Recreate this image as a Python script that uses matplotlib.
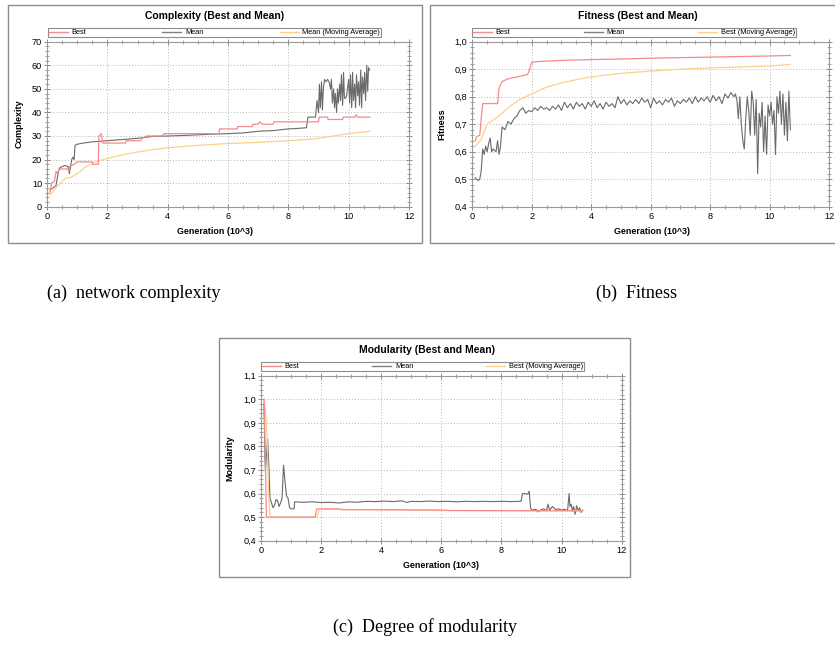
import matplotlib
matplotlib.use("Agg")
import matplotlib.pyplot as plt
from matplotlib.patches import Rectangle
from matplotlib.lines import Line2D
from matplotlib.ticker import MultipleLocator, FuncFormatter

# ---------------- data ----------------
# (a) Complexity
cb_x = [0.10, 0.15, 0.25, 0.30, 0.35, 0.40, 0.70, 0.72, 0.75, 0.90, 1.00, 1.50, 1.52, 1.70, 1.72, 1.80, 1.85,
        2.60, 2.62, 3.10, 3.15, 3.30, 3.80, 3.90, 5.70, 5.72, 6.30, 6.32, 6.80, 6.82, 7.00, 7.05, 7.15, 7.50,
        7.52, 9.00, 9.02, 9.30, 9.32, 9.80, 9.82, 10.20, 10.25, 10.30, 10.70]
cb_y = [6, 10, 11, 15, 14, 16, 16, 15, 17, 18, 19, 19, 18, 18, 30, 31, 27,
        27, 28, 28, 29, 30, 30, 31, 31, 33, 33, 34, 34, 35, 35, 36, 35, 35,
        36, 36, 38, 38, 37, 37, 38, 38, 39, 38, 38]
cm_x = [0.10, 0.20, 0.30, 0.38, 0.42, 0.50, 0.60, 0.70, 0.74, 0.78, 0.82, 0.86, 0.90, 0.93, 1.00, 1.20, 1.50,
        2.00, 2.50, 3.00, 3.50, 4.00, 4.50, 5.00, 5.50, 6.00, 6.50, 7.00, 7.50, 8.00, 8.30, 8.60, 8.65, 8.90,
        8.95, 9.00, 9.03, 9.06, 9.10, 9.13, 9.16, 9.20, 9.25, 9.30, 9.35, 9.40, 9.43, 9.46, 9.50, 9.53, 9.56,
        9.60, 9.63, 9.66, 9.70, 9.73, 9.76, 9.80, 9.83, 9.86, 9.90, 9.93, 9.96, 10.00, 10.03, 10.06, 10.10,
        10.13, 10.16, 10.20, 10.23, 10.26, 10.30, 10.33, 10.36, 10.40, 10.43, 10.46, 10.50, 10.53, 10.56,
        10.60, 10.63, 10.66, 10.70]
cm_y = [7, 8, 9, 15, 16.5, 17, 17.5, 17, 14, 17, 20, 21, 20, 26, 26.5, 27, 27.5,
        28, 28.5, 29, 29.8, 30, 30.2, 30.5, 30.8, 31, 31.3, 32, 32.3, 33, 33.2, 33.5, 38, 38,
        45, 40, 52, 42, 53, 41, 50, 54, 53, 54, 53, 50, 54, 44, 50, 42, 48,
        40, 50, 44, 52, 45, 56, 43, 57, 46, 46, 47, 50, 54, 44, 56, 42,
        57, 45, 52, 42, 56, 47, 53, 43, 58, 42, 55, 48, 57, 45,
        60, 49, 59, 58]
ca_x = [0.10, 0.30, 0.60, 0.80, 1.00, 1.30, 1.60, 2.00, 2.50, 3.00, 3.50, 4.00, 5.00, 6.00, 7.00, 8.00,
        8.60, 9.00, 9.50, 10.00, 10.70]
ca_y = [5, 8, 12, 12.5, 14, 17, 19, 20.5, 22, 23.2, 24.2, 25, 26, 26.8, 27.3, 28,
        28.5, 29, 30, 31, 32]

# (b) Fitness
fb_x = [0.10, 0.15, 0.25, 0.30, 0.35, 0.85, 0.90, 1.00, 1.20, 1.50, 1.85, 1.90, 2.00, 2.20, 3.00, 4.00,
        5.00, 6.00, 7.00, 8.00, 9.00, 10.00, 10.70]
fb_y = [0.64, 0.655, 0.66, 0.72, 0.775, 0.775, 0.83, 0.855, 0.865, 0.872, 0.88, 0.89, 0.925, 0.928, 0.932,
        0.935, 0.937, 0.94, 0.942, 0.944, 0.946, 0.948, 0.95]
fa_x = [0.10, 0.30, 0.50, 0.90, 1.20, 1.60, 2.00, 2.50, 3.00, 3.50, 4.00, 5.00, 6.00, 7.00, 8.00, 9.00,
        10.00, 10.70]
fa_y = [0.62, 0.645, 0.70, 0.73, 0.76, 0.79, 0.81, 0.835, 0.85, 0.862, 0.872, 0.885, 0.893, 0.90, 0.905,
        0.908, 0.912, 0.917]
fm_x = [0.10, 0.20, 0.25, 0.30, 0.35, 0.40, 0.45, 0.50, 0.55, 0.60, 0.65, 0.70, 0.80, 0.85, 0.90, 0.95,
        1.00, 1.10, 1.20, 1.30, 1.40, 1.50, 1.60, 1.70, 1.80, 1.90,
        2.0, 2.1, 2.2, 2.3, 2.4, 2.5, 2.6, 2.7, 2.8, 2.9, 3.0, 3.1, 3.2, 3.3, 3.4, 3.5, 3.6, 3.7, 3.8, 3.9,
        4.0, 4.1, 4.2, 4.3, 4.4, 4.5, 4.6, 4.7, 4.8, 4.9, 5.0, 5.1, 5.2, 5.3, 5.4, 5.5, 5.6, 5.7, 5.8, 5.9,
        6.0, 6.1, 6.2, 6.3, 6.4, 6.5, 6.6, 6.7, 6.8, 6.9, 7.0, 7.1, 7.2, 7.3, 7.4, 7.5, 7.6, 7.7, 7.8, 7.9,
        8.0, 8.1, 8.2, 8.3, 8.4, 8.5, 8.6, 8.7, 8.8,
        8.85, 8.90, 8.95, 9.00, 9.05, 9.10, 9.15, 9.20, 9.25, 9.30, 9.35, 9.40, 9.45, 9.50, 9.55, 9.60,
        9.65, 9.70, 9.75, 9.80, 9.85, 9.90, 9.95, 10.00, 10.05, 10.10, 10.15, 10.20, 10.25, 10.30, 10.35,
        10.40, 10.45, 10.50, 10.55, 10.60, 10.65, 10.70]
fm_y = [0.505, 0.495, 0.50, 0.53, 0.61, 0.59, 0.62, 0.60, 0.63, 0.65, 0.60, 0.61, 0.60, 0.64, 0.59, 0.62,
        0.69, 0.68, 0.71, 0.70, 0.72, 0.73, 0.75, 0.76, 0.74, 0.75,
        0.745, 0.76, 0.75, 0.765, 0.755, 0.76, 0.75, 0.765, 0.755, 0.77, 0.75, 0.78, 0.76, 0.775, 0.755, 0.78,
        0.765, 0.775, 0.755, 0.78,
        0.765, 0.785, 0.76, 0.775, 0.755, 0.78, 0.765, 0.775, 0.76, 0.80, 0.775, 0.79, 0.77, 0.785, 0.775,
        0.79, 0.775, 0.795, 0.78, 0.79,
        0.76, 0.795, 0.775, 0.785, 0.77, 0.79, 0.78, 0.795, 0.765, 0.785, 0.775, 0.79, 0.78, 0.795, 0.775,
        0.80, 0.78, 0.795, 0.785, 0.80,
        0.78, 0.805, 0.785, 0.80, 0.775, 0.81, 0.795, 0.815, 0.80,
        0.81, 0.79, 0.72, 0.80, 0.70, 0.64, 0.61, 0.72, 0.80, 0.75, 0.66, 0.82, 0.78, 0.66, 0.79, 0.52,
        0.74, 0.69, 0.78, 0.60, 0.73, 0.59, 0.77, 0.73, 0.78, 0.70, 0.75, 0.59, 0.80, 0.74, 0.82,
        0.70, 0.81, 0.66, 0.78, 0.64, 0.82, 0.68]

# (c) Modularity
mb_x = [0.10, 0.12, 0.15, 0.18, 1.80, 1.85, 2.60, 2.65, 5.80, 6.30, 9.00, 10.70]
mb_y = [1.00, 0.90, 0.70, 0.50, 0.50, 0.535, 0.535, 0.532, 0.530, 0.528, 0.527, 0.527]
ma_x = [0.10, 0.15, 0.20, 0.25, 0.30, 1.85, 1.95, 2.60, 2.65, 5.80, 6.30, 9.00, 10.70]
ma_y = [1.00, 0.95, 0.85, 0.60, 0.50, 0.50, 0.535, 0.535, 0.532, 0.530, 0.528, 0.527, 0.527]
mm_x = [0.10, 0.13, 0.15, 0.20, 0.22, 0.25, 0.28, 0.30, 0.35, 0.40, 0.45, 0.50, 0.55, 0.60, 0.65, 0.70,
        0.75, 0.80, 0.85, 0.90, 0.95, 1.00, 1.10, 1.12, 1.40, 1.70, 2.00, 2.30, 2.60, 2.90, 3.20, 3.50,
        3.80, 4.10, 4.40, 4.70, 4.85, 5.00, 5.30, 5.60, 5.90, 6.20, 6.50, 6.80, 7.10, 7.40, 7.70, 8.00,
        8.30, 8.65, 8.70, 8.88, 8.92, 8.97, 9.00, 9.15, 9.20, 9.30, 9.40, 9.50, 9.55, 9.60, 9.70, 9.80,
        9.90, 10.00, 10.10, 10.20, 10.25, 10.28, 10.32, 10.36, 10.40, 10.45, 10.50, 10.55, 10.60, 10.65,
        10.70]
mm_y = [0.98, 0.75, 0.70, 0.80, 0.83, 0.75, 0.65, 0.58, 0.56, 0.54, 0.55, 0.575, 0.57, 0.545, 0.56, 0.58,
        0.72, 0.65, 0.59, 0.58, 0.54, 0.535, 0.535, 0.565, 0.563, 0.565, 0.562, 0.563, 0.560, 0.565, 0.563,
        0.567, 0.566, 0.568, 0.566, 0.569, 0.562, 0.567, 0.566, 0.568, 0.566, 0.567, 0.565, 0.567, 0.566,
        0.567, 0.566, 0.567, 0.566, 0.567, 0.60, 0.598, 0.61, 0.54, 0.530, 0.533, 0.522, 0.530, 0.535,
        0.528, 0.555, 0.530, 0.545, 0.532, 0.535, 0.530, 0.533, 0.528, 0.60, 0.545, 0.555, 0.525, 0.545,
        0.512, 0.548, 0.528, 0.540, 0.520, 0.530]

# ---------------- style ----------------
W, H = 835, 646
RED = "#f78a8a"
GRAY = "#6a6a6a"
YEL = "#fdd08a"
FRAME = "#8c8c8c"
SANS = "Liberation Sans"

fig = plt.figure(figsize=(W / 100, H / 100), dpi=100)
fig.patch.set_facecolor("white")


def rect(l, t, r, b):
    return [l / W, 1 - b / H, (r - l) / W, (b - t) / H]


def fx(x):
    return x / W


def fy(y):
    return 1 - y / H


def comma(v, pos):
    return f"{v:.1f}".replace(".", ",")


def frame(l, t, r, b):
    fig.patches.append(Rectangle((fx(l), fy(b)), (r - l) / W, (b - t) / H, transform=fig.transFigure,
                                 fill=False, edgecolor=FRAME, linewidth=1.0))


def panel(axr, title, tpos, legbox, labels, ylabel, ylpos, xlpos, ylim, ymaj, ymin, yfmt):
    ax = fig.add_axes(rect(*axr))
    ax.set_xlim(0, 12)
    ax.set_ylim(*ylim)
    ax.xaxis.set_major_locator(MultipleLocator(2))
    ax.xaxis.set_minor_locator(MultipleLocator(0.5))
    ax.yaxis.set_major_locator(MultipleLocator(ymaj))
    ax.yaxis.set_minor_locator(MultipleLocator(ymin))
    if yfmt:
        ax.yaxis.set_major_formatter(FuncFormatter(comma))
    ax.grid(True, which="major", linestyle=(0, (1, 2)), color="#b5b5b5", linewidth=0.7)
    ax.tick_params(which="both", direction="inout", top=True, right=True, colors="#7a7a7a",
                   labelcolor="black", labelsize=6.6, pad=1.5)
    ax.tick_params(which="major", length=4, width=0.6)
    ax.tick_params(which="minor", length=2.5, width=0.5)
    for s in ax.spines.values():
        s.set_color("#9a9a9a")
        s.set_linewidth(0.8)
    for lab in ax.get_xticklabels() + ax.get_yticklabels():
        lab.set_fontfamily(SANS)
    fig.text(fx(tpos[0]), fy(tpos[1]), title, ha="center", va="center", fontsize=7.5,
             fontweight="bold", family=SANS)
    fig.text(fx(xlpos[0]), fy(xlpos[1]), "Generation (10^3)", ha="center", va="center", fontsize=6.4,
             fontweight="bold", family=SANS)
    fig.text(fx(ylpos[0]), fy(ylpos[1]), ylabel, ha="center", va="center", fontsize=6.5,
             fontweight="bold", family=SANS, rotation=90)
    handles = [Line2D([], [], color=RED, lw=1.0), Line2D([], [], color="#808080", lw=1.0),
               Line2D([], [], color=YEL, lw=1.0)]
    l, t, r, b = legbox
    leg = fig.legend(handles, labels, loc="center", bbox_to_anchor=(fx(l), fy(b), (r - l) / W, (b - t) / H),
                     bbox_transform=fig.transFigure, mode="expand", ncol=3, borderaxespad=0,
                     frameon=True, fancybox=False, edgecolor="#707070",
                     prop={"family": SANS, "size": 5.3}, handlelength=2.6, handletextpad=0.5,
                     borderpad=0.12, columnspacing=1.0)
    leg.get_frame().set_linewidth(0.8)
    return ax


# frames
frame(8, 5, 422, 243)
frame(430, 5, 845, 243)
frame(219, 338, 630, 577)

# (a)
axa = panel((47, 41.7, 409, 206.7), "Complexity (Best and Mean)", (215, 16), (47.7, 28.3, 381, 37.3),
            ["Best", "Mean", "Mean (Moving Average)"], "Complexity", (19, 124), (215, 232),
            (0, 70), 10, 2, False)
axa.plot(ca_x, ca_y, color=YEL, lw=0.9)
axa.plot(cm_x, cm_y, color=GRAY, lw=0.8)
axa.plot(cb_x, cb_y, color=RED, lw=0.9)

# (b)
axb = panel((472.3, 41.7, 829, 206.7), "Fitness (Best and Mean)", (638, 16), (471.7, 28.3, 796, 37.3),
            ["Best", "Mean", "Best (Moving Average)"], "Fitness", (441.7, 124), (652, 232),
            (0.4, 1.0), 0.1, 0.02, True)
axb.plot(fa_x, fa_y, color=YEL, lw=0.9)
axb.plot(fm_x, fm_y, color=GRAY, lw=0.8)
axb.plot(fb_x, fb_y, color=RED, lw=0.9)

# (c)
axc = panel((261, 375.7, 621.7, 540.7), "Modularity (Best and Mean)", (427, 350), (261, 362.7, 584, 371),
            ["Best", "Mean", "Best (Moving Average)"], "Modularity", (230, 458), (441, 566),
            (0.4, 1.1), 0.1, 0.02, True)
axc.plot(mm_x, mm_y, color=GRAY, lw=0.8)
axc.plot(ma_x, ma_y, color=YEL, lw=0.9)
axc.plot(mb_x, mb_y, color=RED, lw=0.9)

# captions
SERIF = "Liberation Serif"
fig.text(fx(134), fy(293), "(a)  network complexity", ha="center", va="center", fontsize=13, family=SERIF)
fig.text(fx(637), fy(293), "(b)  Fitness", ha="center", va="center", fontsize=13, family=SERIF)
fig.text(fx(425), fy(627), "(c)  Degree of modularity", ha="center", va="center", fontsize=13, family=SERIF)

fig.savefig("out.png", dpi=100, facecolor="white")
